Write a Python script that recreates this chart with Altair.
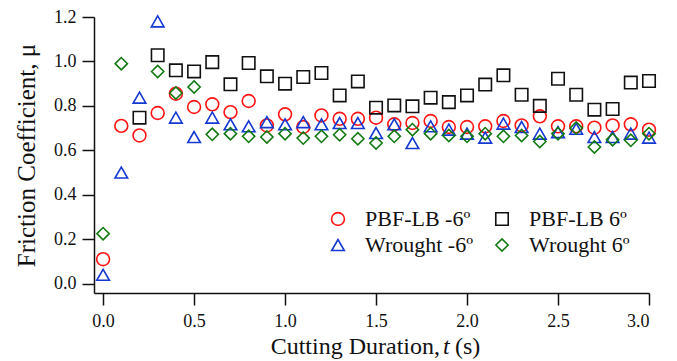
import altair as alt
import pandas as pd

times = [round(0.1 * i, 1) for i in range(31)]

pbf_neg6 = [0.11, 0.71, 0.667, 0.768, 0.855, 0.795, 0.807, 0.772, 0.822, 0.712,
            0.762, 0.705, 0.757, 0.742, 0.742, 0.747, 0.717, 0.723, 0.732, 0.705,
            0.705, 0.708, 0.732, 0.712, 0.753, 0.708, 0.708, 0.702, 0.712, 0.717, 0.693]
pbf_pos6 = [None, None, 0.747, 1.028, 0.96, 0.955, 0.997, 0.897, 0.993, 0.933,
            0.90, 0.93, 0.948, 0.847, 0.91, 0.792, 0.802, 0.798, 0.837, 0.817,
            0.847, 0.896, 0.9375, 0.85, 0.80, 0.922, 0.85, 0.783, 0.786, 0.905, 0.912]
wro_neg6 = [0.04, 0.50, 0.837, 1.18, 0.747, 0.66, 0.747, 0.717, 0.708, 0.727,
            0.717, 0.727, 0.717, 0.723, 0.723, 0.678, 0.717, 0.633, 0.708, 0.693,
            0.675, 0.657, 0.72, 0.705, 0.675, 0.682, 0.697, 0.66, 0.66, 0.675, 0.657]
wro_pos6 = [0.225, 0.99, None, 0.955, 0.858, 0.885, 0.672, 0.675, 0.663, 0.66,
            0.675, 0.655, 0.663, 0.67, 0.652, 0.633, 0.663, 0.693, 0.675, 0.667,
            0.663, 0.675, 0.663, 0.667, 0.64, 0.675, 0.70, 0.615, 0.648, 0.645, 0.675]

# legend order (column-major): circle, triangle | square, diamond
series_names = ["PBF-LB -6º", "Wrought -6º", "PBF-LB 6º", "Wrought 6º"]
series_values = [pbf_neg6, wro_neg6, pbf_pos6, wro_pos6]
colors = ["#ff1414", "#1438d2", "#111111", "#137a13"]
shapes = ["circle", "triangle-up", "square", "diamond"]
sizes = [165, 150, 80, 110]

x_title_parts = ["Cutting Duration,", "t", "(s)"]

rows = []
for name, vals in zip(series_names, series_values):
    for t, v in zip(times, vals):
        if v is not None:
            rows.append({"t": t, "mu": v, "series": name})
df = pd.DataFrame(rows)

font = "Liberation Serif"
leg = alt.Legend(
    title=None, orient="none", legendX=233, legendY=191, columns=2,
    labelFont=font, labelFontSize=22, labelColor="#111111", labelOffset=16,
    columnPadding=18, rowPadding=4, padding=0, symbolStrokeWidth=1.6,
)

points = alt.Chart(df).mark_point(filled=False, strokeWidth=1.6, opacity=1).encode(
    x=alt.X("t:Q", scale=alt.Scale(domain=[-0.05, 3.0], nice=False, zero=False),
            axis=alt.Axis(values=[0, 0.5, 1.0, 1.5, 2.0, 2.5, 3.0], format=".1f",
                          title=None, labelPadding=7, labelFont=font, labelFontSize=18)),
    y=alt.Y("mu:Q", scale=alt.Scale(domain=[-0.042, 1.2], nice=False, zero=False),
            axis=alt.Axis(values=[0, 0.2, 0.4, 0.6, 0.8, 1.0, 1.2], format=".1f",
                          title="Friction Coefficient, μ", labelPadding=6, titlePadding=14,
                          labelFont=font, labelFontSize=18, titleFont=font)),
    color=alt.Color("series:N", scale=alt.Scale(domain=series_names, range=colors), legend=leg),
    shape=alt.Shape("series:N", scale=alt.Scale(domain=series_names, range=shapes), legend=leg),
    size=alt.Size("series:N", scale=alt.Scale(domain=series_names, range=sizes), legend=leg),
)

title_df = pd.DataFrame({"k": [0]})
title_base = alt.Chart(title_df)
t1 = title_base.mark_text(font=font, fontSize=24, align="right", baseline="alphabetic",
                          color="#111111", text=x_title_parts[0]).encode(
    x=alt.value(346), y=alt.value(337))
t2 = title_base.mark_text(font=font, fontSize=24, fontStyle="italic", align="left",
                          baseline="alphabetic", color="#111111", text=x_title_parts[1]).encode(
    x=alt.value(349), y=alt.value(337))
t3 = title_base.mark_text(font=font, fontSize=24, align="left", baseline="alphabetic",
                          color="#111111", text=x_title_parts[2]).encode(
    x=alt.value(361), y=alt.value(337))

chart = alt.layer(points, t1, t2, t3).properties(
    width=555, height=276,
    autosize=alt.AutoSizeParams(type="none"),
    padding={"left": 86, "top": 9, "right": 20, "bottom": 70},
).configure_view(stroke=None).configure_axis(
    grid=False, domainColor="#111111", domainWidth=1.5, tickColor="#111111",
    tickWidth=1.5, tickSize=12, labelFont=font, labelFontSize=18, labelColor="#111111",
    titleFont=font, titleFontSize=25, titleFontWeight="normal", titleColor="#111111",
)

chart.save("out.html", embed_options={"renderer": "svg", "actions": False})
